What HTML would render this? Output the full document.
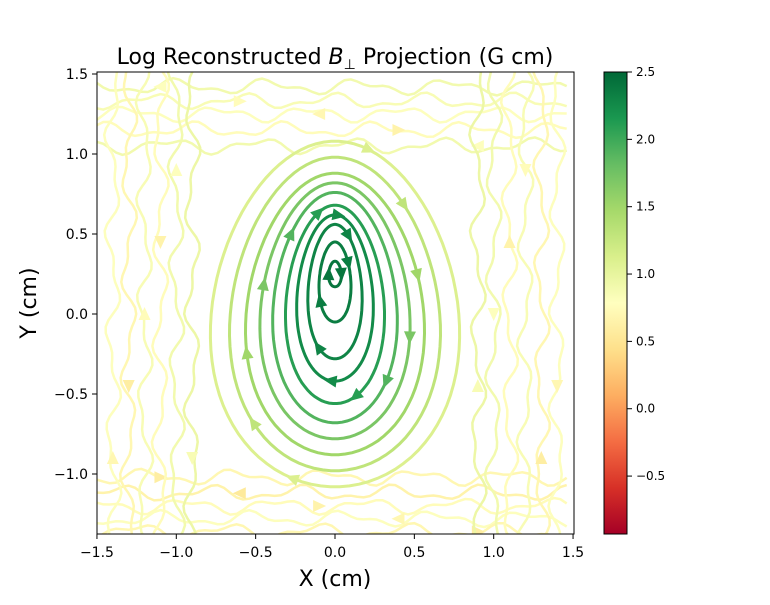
<!DOCTYPE html>
<html><head><meta charset="utf-8"><style>
body{margin:0;background:#fff;}
svg text{font-family:"DejaVu Sans","Liberation Sans",sans-serif;}
</style></head><body>
<svg id="c" width="770" height="600" viewBox="0 0 770 600" xmlns="http://www.w3.org/2000/svg">
<defs>
<linearGradient id="cbg" x1="0" y1="1" x2="0" y2="0">
<stop offset="0" stop-color="#a50026"/><stop offset="0.1" stop-color="#d73027"/><stop offset="0.2" stop-color="#f46d43"/><stop offset="0.3" stop-color="#fdae61"/><stop offset="0.4" stop-color="#fee08b"/><stop offset="0.5" stop-color="#ffffbf"/><stop offset="0.6" stop-color="#d9ef8b"/><stop offset="0.7" stop-color="#a6d96a"/><stop offset="0.8" stop-color="#66bd63"/><stop offset="0.9" stop-color="#1a9850"/><stop offset="1" stop-color="#006837"/>
</linearGradient>
<clipPath id="pc"><rect x="97" y="72" width="477" height="462"/></clipPath>
</defs>
<text x="335" y="64" font-size="22" text-anchor="middle">Log Reconstructed <tspan font-style="italic">B</tspan><tspan font-size="14" dy="5">⊥</tspan><tspan dy="-5"> Projection (G cm)</tspan></text>
<g id="plot" clip-path="url(#pc)"></g>
<rect x="97" y="72" width="477" height="462" fill="none" stroke="#000" stroke-width="1"/>
<g id="axes"></g>
<text x="335" y="586" font-size="22" text-anchor="middle">X (cm)</text>
<text x="36" y="303" font-size="22" text-anchor="middle" transform="rotate(-90 36 303)">Y (cm)</text>
<rect x="604" y="72" width="23" height="462" fill="url(#cbg)" stroke="#000" stroke-width="1"/>
<g id="cbar"></g>
</svg>
<script>
const xTicks=[-1.5,-1.0,-0.5,0.0,0.5,1.0,1.5];
const yTicks=[-1.0,-0.5,0.0,0.5,1.0,1.5];
const cbTicks=[-0.5,0.0,0.5,1.0,1.5,2.0,2.5];
const loopCy=[0.25,0.2,0.14,0.1,0.06,0.04,0.02,0.0,0.0,0.0];
const loopRx=[0.04,0.1,0.17,0.24,0.31,0.39,0.47,0.56,0.66,0.78];
const loopRy=[0.08,0.25,0.42,0.52,0.62,0.72,0.8,0.88,0.98,1.08];
const loopVal=[2.4,2.35,2.3,2.25,2.1,1.9,1.7,1.5,1.3,1.1];
const bgY=[1.42,1.33,1.25,1.15,1.05,-1.02,-1.12,-1.2,-1.28,-1.36];
const bgYVal=[0.9,0.85,0.8,0.75,0.9,0.7,0.65,0.75,0.8,0.7];
const bgX=[-1.4,-1.3,-1.2,-1.1,-1.0,-0.9,0.9,1.0,1.1,1.2,1.3,1.4];
const bgXVal=[0.8,0.7,0.85,0.75,0.9,0.95,0.95,0.9,0.75,0.85,0.7,0.8];
const vmin=-0.93,vmax=2.5;
const X=v=>335+v*158.7, Y=v=>314-v*160, CB=v=>534-(v-vmin)/(vmax-vmin)*462;
const stops=[[165,0,38],[215,48,39],[244,109,67],[253,174,97],[254,224,139],[255,255,191],[217,239,139],[166,217,106],[102,189,99],[26,152,80],[0,104,55]];
function cmap(v){let t=Math.max(0,Math.min(1,(v-vmin)/(vmax-vmin)))*10;let i=Math.min(9,Math.floor(t)),f=t-i;const a=stops[i],b=stops[i+1];return `rgb(${a.map((c,k)=>Math.round(c+(b[k]-c)*f)).join(',')})`;}
const NS='http://www.w3.org/2000/svg';
function mk(tag,attrs,parent){const e=document.createElementNS(NS,tag);for(const k in attrs)e.setAttribute(k,attrs[k]);parent.appendChild(e);return e;}
const plot=document.getElementById('plot'),axes=document.getElementById('axes'),cbar=document.getElementById('cbar');
function arrow(x,y,ang,col){const t=mk('polygon',{points:'7,0 -6,-6 -6,6',fill:col,transform:`translate(${x},${y}) rotate(${ang})`},plot);

}
for(let j=0;j<bgY.length;j++){let d='';for(let x=-1.5;x<=1.5;x+=0.04){const y=bgY[j]+0.035*Math.sin(x*11+j*1.7)+0.02*Math.sin(x*23+j);d+=(d?'L':'M')+X(x).toFixed(1)+','+Y(y).toFixed(1);}
const p=mk('path',{d:d,fill:'none',stroke:cmap(bgYVal[j]),'stroke-width':2.5},plot);


arrow(X(-1.1+0.5*(j%5)),Y(bgY[j]),j%2?0:180,cmap(bgYVal[j]-0.1));}
for(let j=0;j<bgX.length;j++){let d='';for(let y=-1.4;y<=1.55;y+=0.04){const x=bgX[j]+0.035*Math.sin(y*10+j*2.1)+0.02*Math.sin(y*21+j);d+=(d?'L':'M')+X(x).toFixed(1)+','+Y(y).toFixed(1);}
const p=mk('path',{d:d,fill:'none',stroke:cmap(bgXVal[j]),'stroke-width':2.5},plot);


arrow(X(bgX[j]),Y(-0.9+0.45*(j%5)),j%2?90:-90,cmap(bgXVal[j]-0.1));}
for(let i=loopRx.length-1;i>=0;i--){let d='';const pts=[];
for(let a=0;a<=360;a+=4){const r=a*Math.PI/180;const c=Math.cos(r),s=Math.sin(r);
const w=1-0.12*s;const px=X(loopRx[i]*c*w),py=Y(loopCy[i]+loopRy[i]*s);pts.push([px,py]);d+=(d?'L':'M')+px.toFixed(1)+','+py.toFixed(1);}
const col=cmap(loopVal[i]);
const p=mk('path',{d:d+'Z',fill:'none',stroke:col,'stroke-width':3},plot);


for(const k of [(i*7)%90,(i*7+45)%90]){const a=pts[k],b=pts[k+1];const ang=Math.atan2(b[1]-a[1],b[0]-a[0])*180/Math.PI;arrow(a[0],a[1],ang+180,col);}}
xTicks.forEach(v=>{const x=X(v);mk('line',{x1:x,x2:x,y1:534,y2:539,stroke:'#000'},axes);
const t=mk('text',{x:x,y:557,'font-size':14,'text-anchor':'middle'},axes);t.textContent=v.toFixed(1).replace('-','−');

});
yTicks.forEach(v=>{const y=Y(v);mk('line',{x1:92,x2:97,y1:y,y2:y,stroke:'#000'},axes);
const t=mk('text',{x:88,y:y+5,'font-size':14,'text-anchor':'end'},axes);t.textContent=v.toFixed(1).replace('-','−');

});
cbTicks.forEach(v=>{const y=CB(v);mk('line',{x1:627,x2:632,y1:y,y2:y,stroke:'#000'},cbar);
const t=mk('text',{x:636,y:y+4,'font-size':12},cbar);t.textContent=v.toFixed(1).replace('-','−');

});
</script>
</body></html>
